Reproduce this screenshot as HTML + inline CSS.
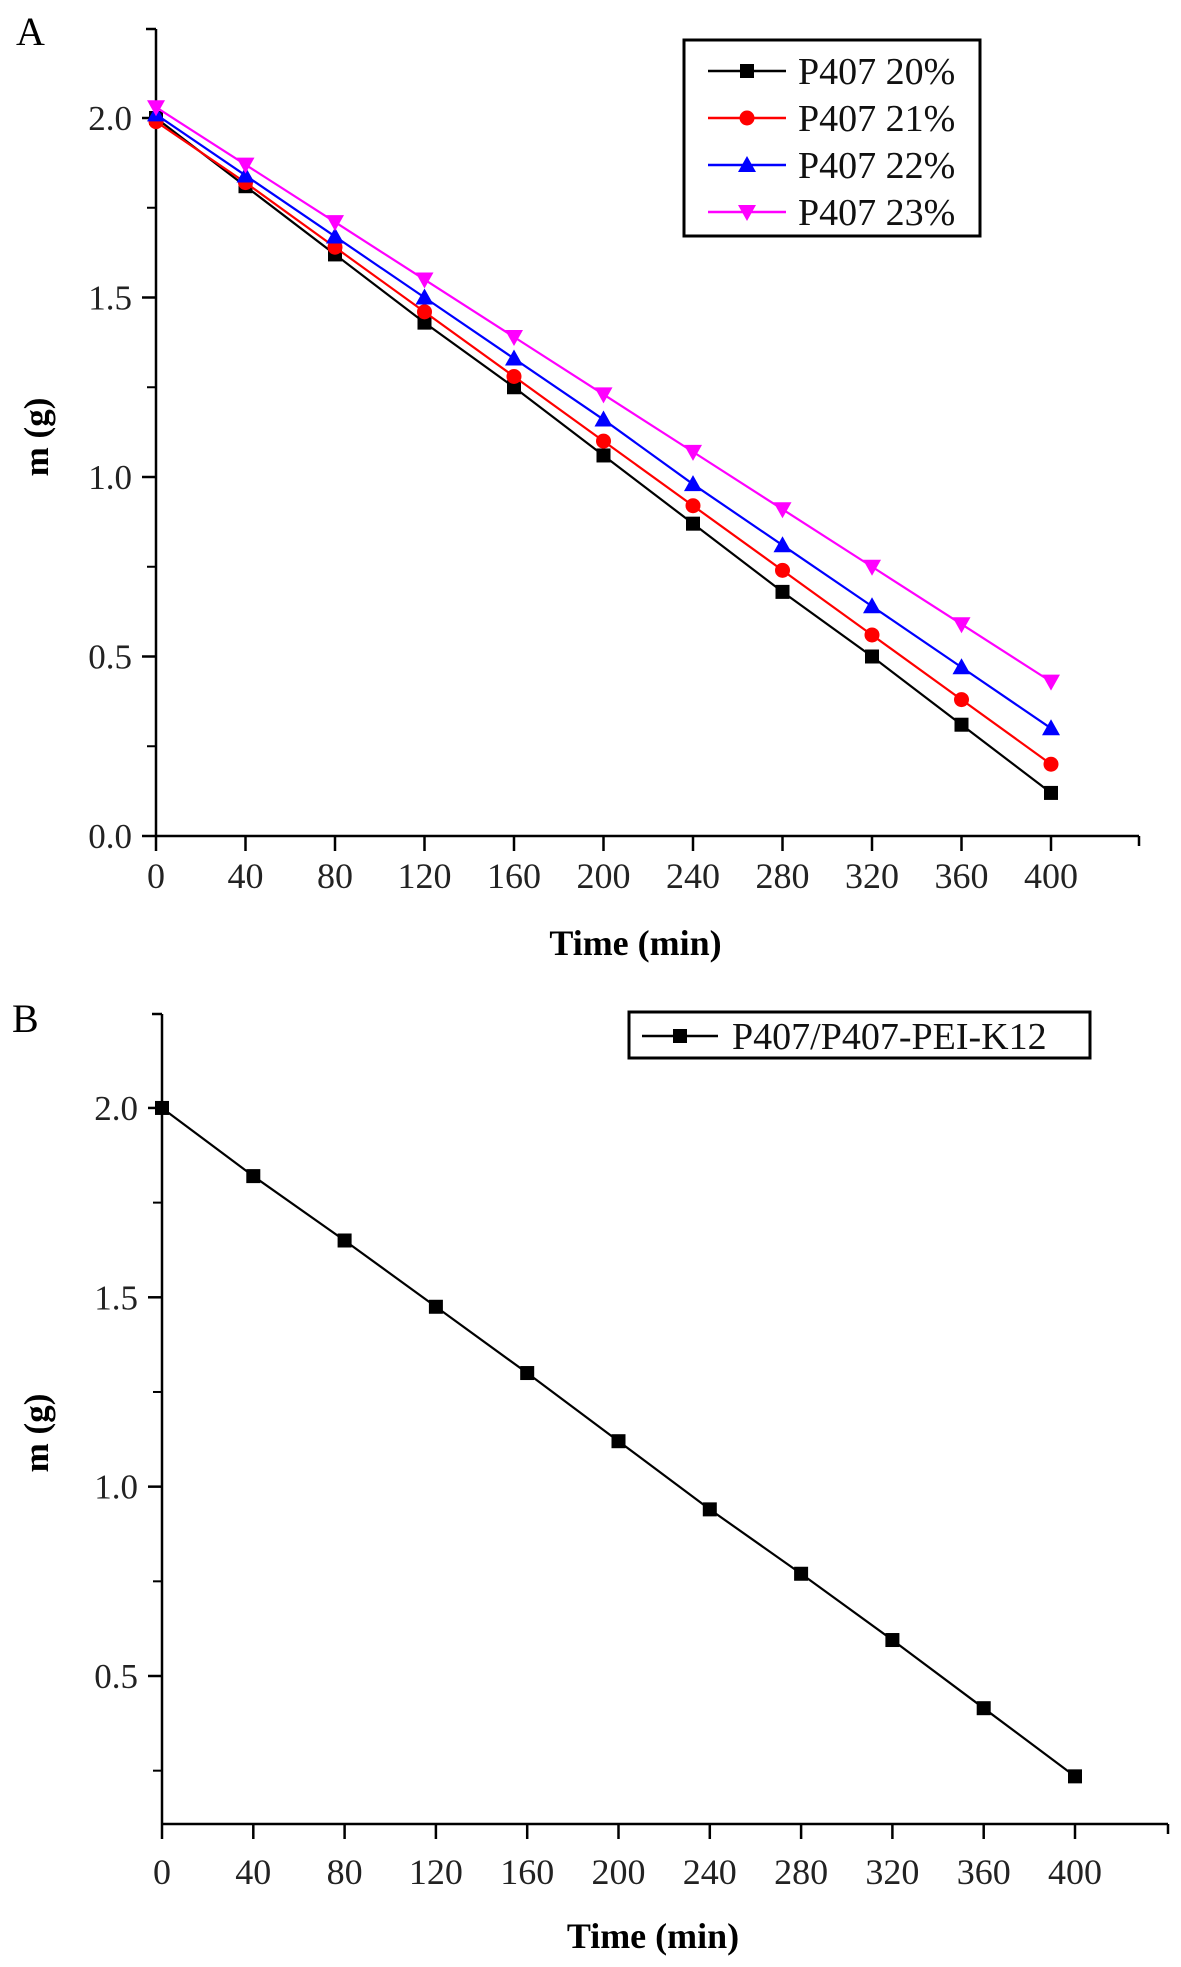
<!DOCTYPE html>
<html><head><meta charset="utf-8"><style>
body{margin:0;background:#fff}
svg{display:block;font-family:"Liberation Serif",serif}
</style></head><body>
<svg id="chart" width="1181" height="1967" viewBox="0 0 1181 1967" xmlns="http://www.w3.org/2000/svg">
<rect width="1181" height="1967" fill="#fff"/>
<g id="pa"></g>
<g id="pb"></g>
</svg>
<script>
const times = [0,40,80,120,160,200,240,280,320,360,400];
const xTicks = [0,40,80,120,160,200,240,280,320,360,400];
const yTicksA = [0.0,0.5,1.0,1.5,2.0];
const yTicksB = [0.5,1.0,1.5,2.0];
const seriesNames = ["P407 20%","P407 21%","P407 22%","P407 23%"];
const s20 = [2.00,1.81,1.62,1.43,1.25,1.06,0.87,0.68,0.50,0.31,0.12];
const s21 = [1.99,1.82,1.64,1.46,1.28,1.10,0.92,0.74,0.56,0.38,0.20];
const s22 = [2.01,1.84,1.67,1.50,1.33,1.16,0.98,0.81,0.64,0.47,0.30];
const s23 = [2.03,1.87,1.71,1.55,1.39,1.23,1.07,0.91,0.75,0.59,0.43];
const sB = [2.00,1.82,1.65,1.475,1.30,1.12,0.94,0.77,0.595,0.415,0.235];
const nameB = "P407/P407-PEI-K12";

const NS="http://www.w3.org/2000/svg";
function mk(parent,tag,attrs,text){const e=document.createElementNS(NS,tag);for(const k in attrs)e.setAttribute(k,attrs[k]);if(text!==undefined)e.textContent=text;parent.appendChild(e);return e;}

function marker(g,shape,cx,cy,color){
  let e;
  if(shape==='square'){e=mk(g,'rect',{x:cx-7,y:cy-7,width:14,height:14,fill:color});}
  else if(shape==='circle'){e=mk(g,'circle',{cx:cx,cy:cy,r:7.5,fill:color});}
  else if(shape==='up'){e=mk(g,'polygon',{points:`${cx},${cy-9} ${cx+9},${cy+7} ${cx-9},${cy+7}`,fill:color});}
  else {e=mk(g,'polygon',{points:`${cx-9},${cy-7} ${cx+9},${cy-7} ${cx},${cy+9}`,fill:color});}
  
  
}

function panel(g,cfg){
  const xs=v=>cfg.x0+(v-0)*(cfg.x400-cfg.x0)/400;
  const ys=v=>cfg.yBase-(v-cfg.yBaseVal)*cfg.pxPerUnit;
  const ax=mk(g,'g',{});
  
  
  mk(ax,'line',{x1:cfg.x0,y1:cfg.top,x2:cfg.x0,y2:cfg.bottom,stroke:'#000','stroke-width':2.5});
  mk(ax,'line',{x1:cfg.x0-10,y1:cfg.top,x2:cfg.x0,y2:cfg.top,stroke:'#000','stroke-width':2.5});
  mk(ax,'line',{x1:cfg.x0,y1:cfg.bottom,x2:cfg.xEnd,y2:cfg.bottom,stroke:'#000','stroke-width':2.5});
  mk(ax,'line',{x1:cfg.xEnd,y1:cfg.bottom,x2:cfg.xEnd,y2:cfg.bottom+10,stroke:'#000','stroke-width':2.5});
  xTicks.forEach(t=>{
    const x=xs(t);
    mk(ax,'line',{x1:x,y1:cfg.bottom,x2:x,y2:cfg.bottom+15,stroke:'#000','stroke-width':2.5});
    const tx=mk(ax,'text',{x:x,y:cfg.bottom+cfg.labelOff,'font-size':36,'text-anchor':'middle',fill:'#222'},String(t));
    
    
  });
  cfg.yTicks.forEach(t=>{
    const y=ys(t);
    mk(ax,'line',{x1:cfg.x0-14,y1:y,x2:cfg.x0,y2:y,stroke:'#000','stroke-width':2.5});
    const ty=mk(ax,'text',{x:cfg.x0-24,y:y+12,'font-size':35,'text-anchor':'end',fill:'#222'},t.toFixed(1));
    
    
  });
  cfg.minorY.forEach(t=>{
    const y=ys(t);
    mk(ax,'line',{x1:cfg.x0-9,y1:y,x2:cfg.x0,y2:y,stroke:'#000','stroke-width':2});
  });
  const xt=mk(g,'text',{x:(cfg.x0+cfg.xEnd)/2-12,y:cfg.bottom+cfg.titleOff,'font-size':36,'font-weight':'bold','text-anchor':'middle'},'Time (min)');
  
  
  const yt=mk(g,'text',{x:0,y:0,'font-size':35,'font-weight':'bold','text-anchor':'middle',transform:`translate(48,${cfg.yTitle}) rotate(-90)`},'m (g)');
  
  
  const pl=mk(g,'text',{x:cfg.letterX,y:cfg.letterY,'font-size':40},cfg.letter);
  
  

  cfg.series.forEach(s=>{
    const sg=mk(g,'g',{});
    
    
    const pts=s.vals.map((v,i)=>xs(times[i])+','+ys(v)).join(' ');
    const pline=mk(sg,'polyline',{points:pts,fill:'none',stroke:s.color,'stroke-width':2.2});
    
    
    s.vals.forEach((v,i)=>marker(sg,s.shape,xs(times[i]),ys(v),s.color));
  });

  const L=cfg.legend;
  const lg=mk(g,'g',{});
  
  
  mk(lg,'rect',{x:L.x,y:L.y,width:L.w,height:L.h,fill:'#fff',stroke:'#000','stroke-width':3});
  cfg.series.forEach((s,i)=>{
    const eg=mk(lg,'g',{});
    
    
    const cy=L.firstY+i*L.step;
    mk(eg,'line',{x1:L.lx1,y1:cy,x2:L.lx2,y2:cy,stroke:s.color,'stroke-width':2.5});
    marker(eg,s.shape,(L.lx1+L.lx2)/2,cy,s.color);
    mk(eg,'text',{x:L.tx,y:cy+13,'font-size':38,fill:'#111'},s.name);
  });
}

panel(document.getElementById('pa'),{
  x0:156,x400:1051,xEnd:1139,top:29,bottom:836,yBase:836,yBaseVal:0,pxPerUnit:359,labelOff:52,titleOff:119,
  yTicks:yTicksA,minorY:[0.25,0.75,1.25,1.75],yTitle:437,letter:'A',letterX:16,letterY:45,
  series:[
    {id:'p407-20',name:seriesNames[0],vals:s20,color:'#000',shape:'square'},
    {id:'p407-21',name:seriesNames[1],vals:s21,color:'#ff0000',shape:'circle'},
    {id:'p407-22',name:seriesNames[2],vals:s22,color:'#0000ff',shape:'up'},
    {id:'p407-23',name:seriesNames[3],vals:s23,color:'#ff00ff',shape:'down'}
  ],
  legend:{x:684,y:40,w:296,h:196,firstY:71,step:47,lx1:708,lx2:786,tx:798}
});
panel(document.getElementById('pb'),{
  x0:162,x400:1075,xEnd:1168,top:1014,bottom:1824,yBase:1676,yBaseVal:0.5,pxPerUnit:378.7,labelOff:60,titleOff:124,
  yTicks:yTicksB,minorY:[0.25,0.75,1.25,1.75],yTitle:1433,letter:'B',letterX:12,letterY:1032,
  series:[{id:'p407-pei-k12',name:nameB,vals:sB,color:'#000',shape:'square'}],
  legend:{x:629,y:1012,w:461,h:46,firstY:1036,step:0,lx1:642,lx2:718,tx:732}
});
</script>
</body></html>
